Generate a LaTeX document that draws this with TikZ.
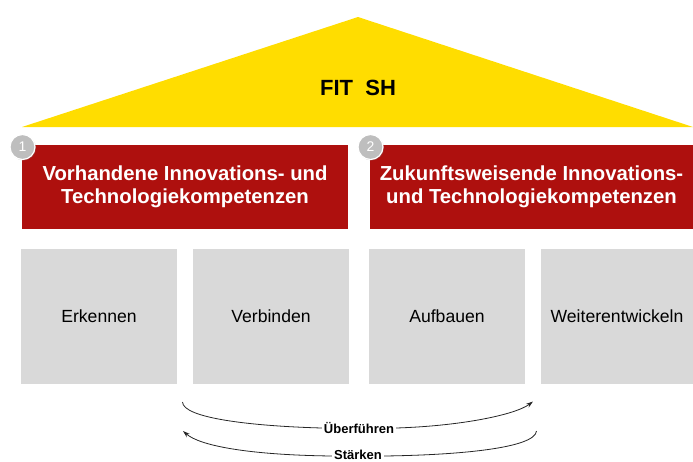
\documentclass[tikz,border=0pt]{standalone}
\usepackage{fontspec}
\setmainfont{Liberation Sans}
\usetikzlibrary{arrows.meta,shadows}
\definecolor{fityellow}{RGB}{255,221,0}
\definecolor{fitred}{RGB}{174,16,14}
\definecolor{fitgrey}{RGB}{217,217,217}
\definecolor{circgrey}{RGB}{190,190,190}
\tikzset{
  redbox/.style={fill=fitred, draw=none, text=white, align=center,
    font=\bfseries\fontsize{20.3}{23.5}\selectfont, inner sep=0pt},
  greybox/.style={fill=fitgrey, draw=none, minimum width=156pt, minimum height=135pt,
    font=\fontsize{17.6}{20}\selectfont, inner sep=0pt},
  numcirc/.style={circle, fill=circgrey, draw=white, line width=1.2pt, minimum size=25pt,
    inner sep=0pt, text=white, font=\fontsize{14}{16}\selectfont,
    drop shadow={opacity=0.35, shadow xshift=1pt, shadow yshift=-1pt}},
  flowlabel/.style={font=\bfseries\fontsize{13}{15}\selectfont, inner sep=2pt, fill=white},
  flowline/.style={line width=0.8pt, black!85},
  flowtip/.style={-{Stealth[length=7pt,width=4.5pt]}}
}
\begin{document}
\begin{tikzpicture}[x=1pt,y=-1pt]
\useasboundingbox (0,0) rectangle (693,461);
% roof
\fill[fityellow] (22,127) -- (358,17) -- (693,127) -- cycle;
\node[font=\bfseries\fontsize{22}{24}\selectfont] (fit) at (358,88) {FIT\ \ SH};
% red boxes
\node[redbox, minimum width=326pt, minimum height=84pt] (r1) at (185,187)
  {Vorhandene Innovations- und\\Technologiekompetenzen};
\node[redbox, minimum width=323pt, minimum height=84pt] (r2) at (531.5,187)
  {Zukunftsweisende Innovations-\\und Technologiekompetenzen};
\node[numcirc] (c1) at (22.5,147) {1};
\node[numcirc] (c2) at (370.5,147) {2};
% grey boxes
\node[greybox] (g1) at (99,316.5) {Erkennen};
\node[greybox] (g2) at (271,316.5) {Verbinden};
\node[greybox] (g3) at (447,316.5) {Aufbauen};
\node[greybox, minimum width=152pt] (g4) at (617,316.5) {Weiterentwickeln};
% flows
\node[flowlabel] (ub) at (359,428) {Überführen};
\node[flowlabel, anchor=base] (st) at (358,459.6) {Stärken};
\coordinate (a1) at (182.5,402);
\coordinate (a2) at (533,401.5);
\coordinate (b1) at (536.5,431);
\coordinate (b2) at (183,431);
\draw[flowline] (a1) .. controls (183,418) and (250,426) .. (ub.west);
\draw[flowline, flowtip] (ub.east) .. controls (460,426) and (515,415) .. (a2);
\draw[flowline] (b1) .. controls (535,448) and (460,455) .. (st.east |- 0,456);
\draw[flowline, flowtip] (st.west |- 0,456) .. controls (250,455) and (200,446) .. (b2);
\end{tikzpicture}
\end{document}
